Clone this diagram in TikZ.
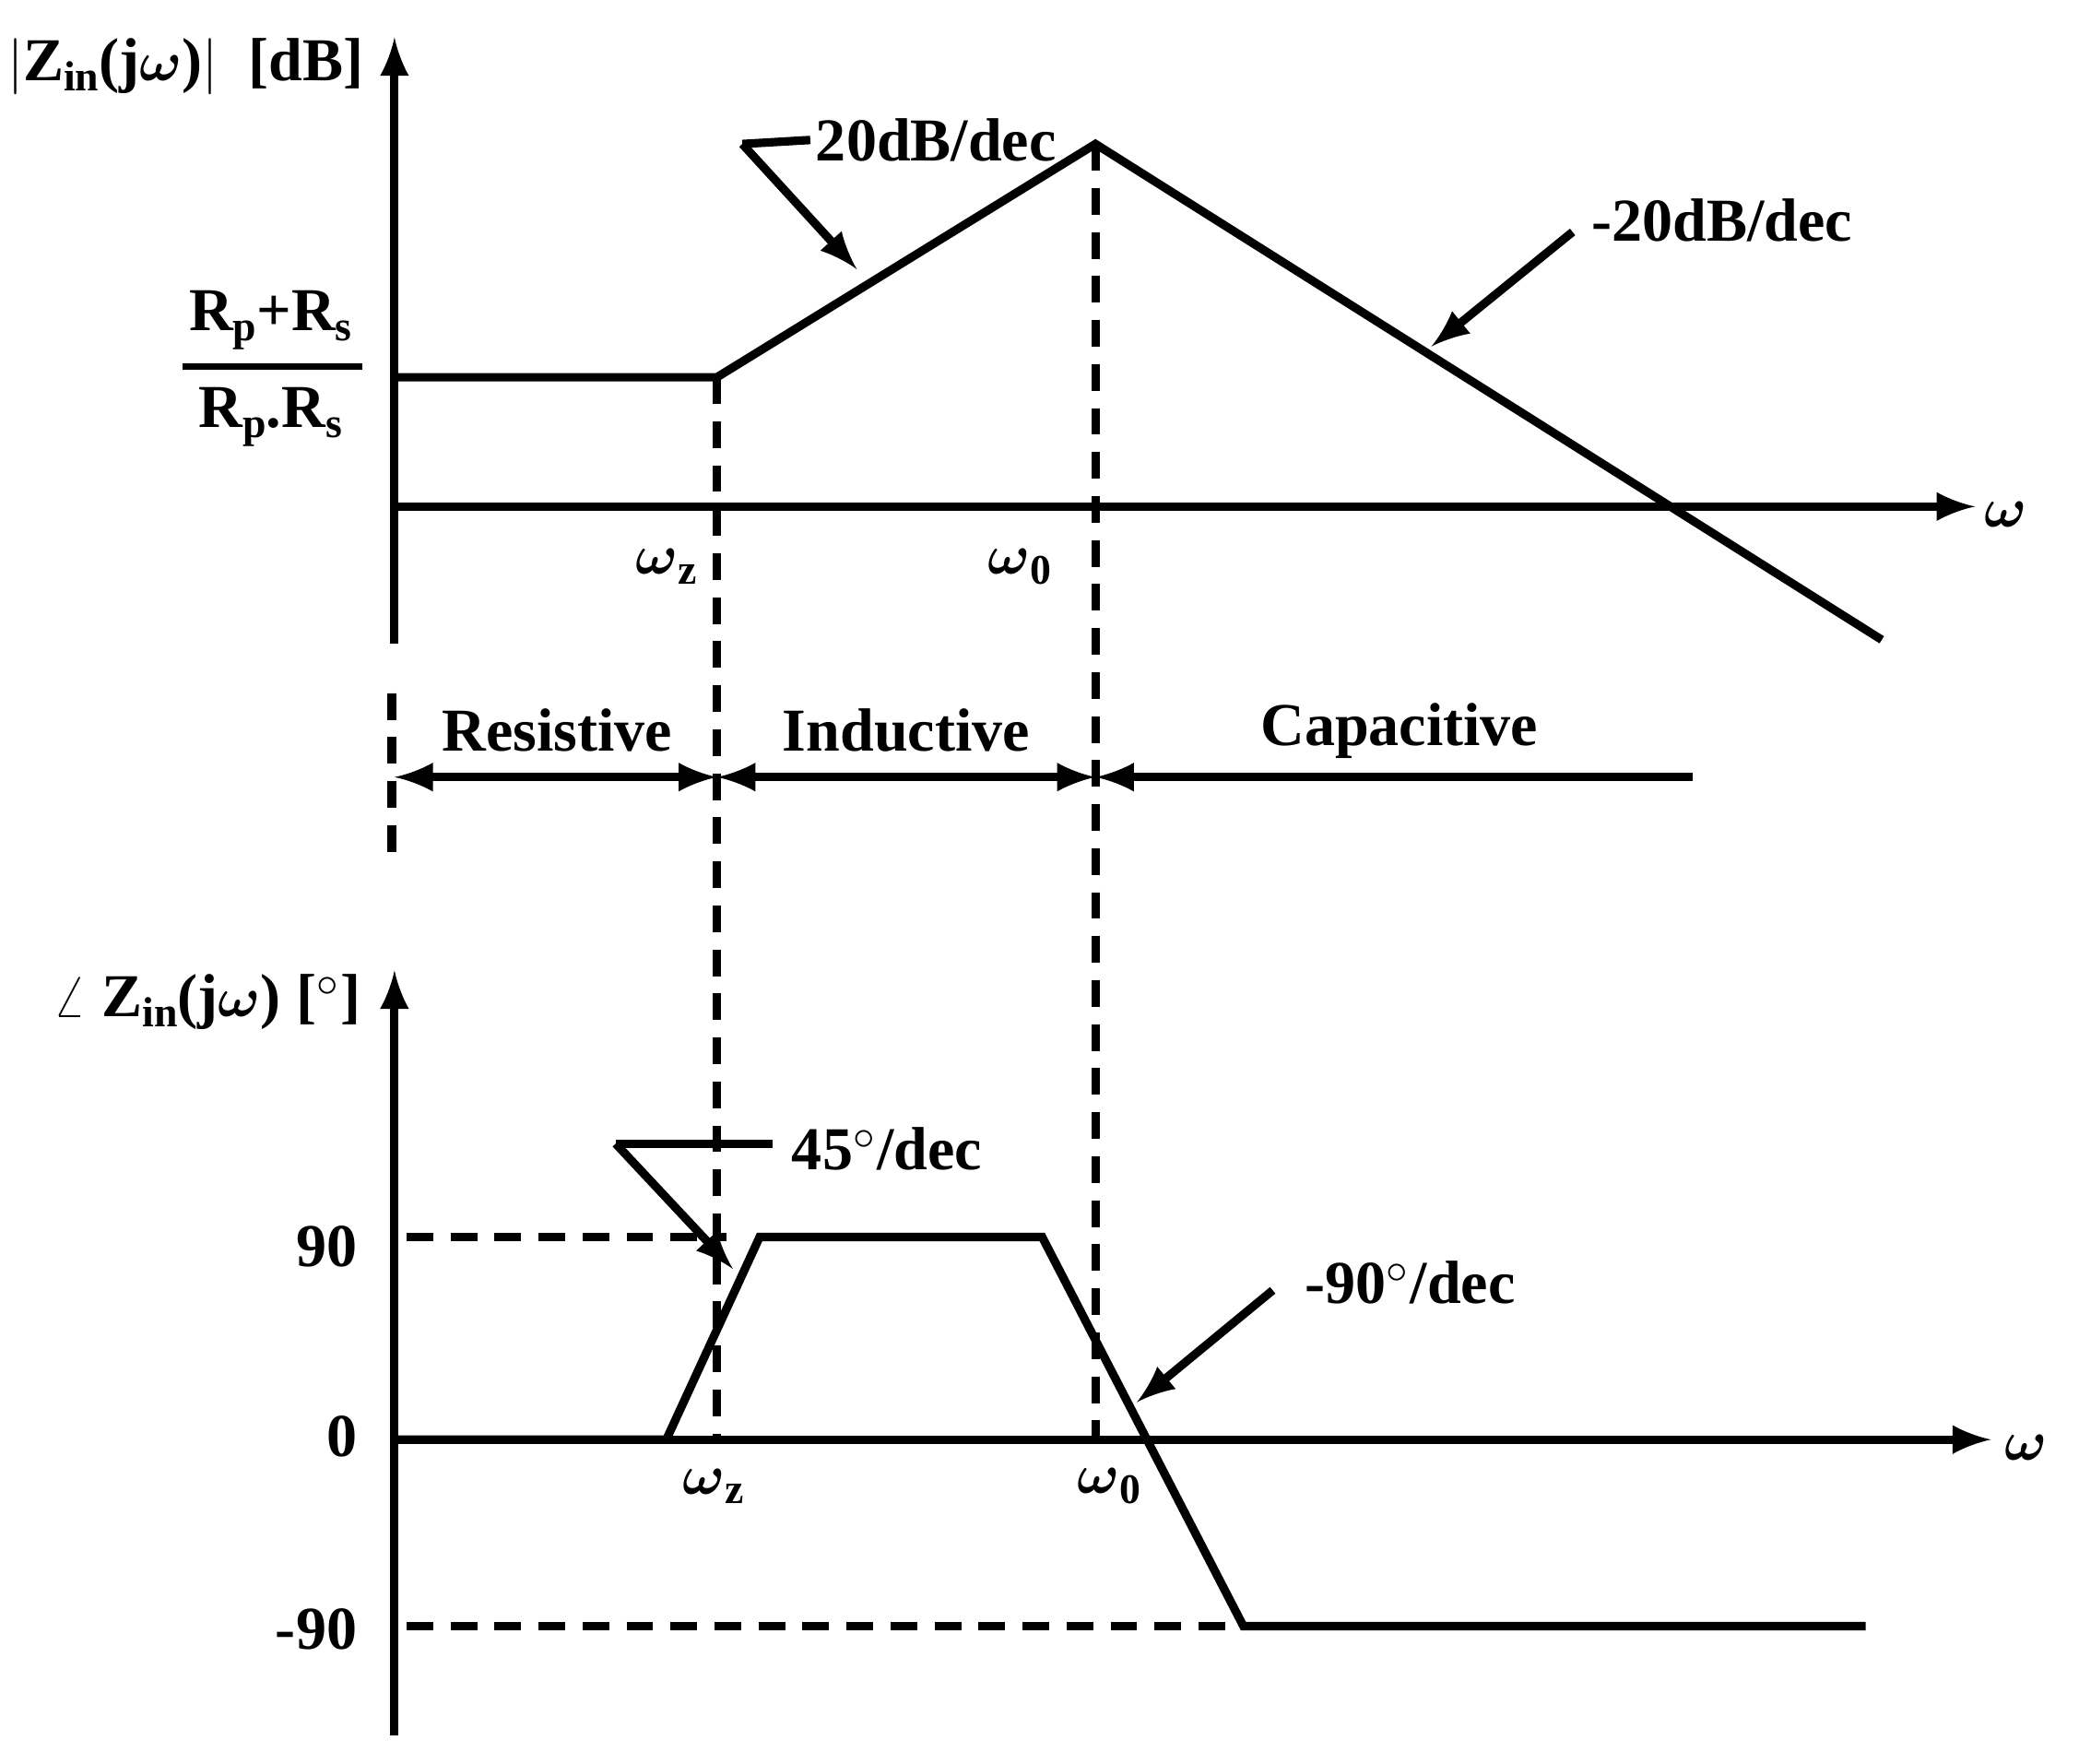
\documentclass[tikz,border=0pt]{standalone}
\usepackage{bm}
\usepackage{fontspec}
\setmainfont{Liberation Serif}
\usetikzlibrary{calc, arrows, positioning}
\tikzstyle{line} = [draw, line width=1.8pt]
\tikzstyle{axis} = [draw, line width=1.8pt, -latex]
\tikzstyle{dline} = [draw, line width=1.8pt, dash pattern=on 0.2cm off 0.13cm]
\tikzstyle{lbl} = [font=\fontsize{13}{16}\selectfont\bfseries, inner sep=1pt]
\newcommand{\lowsub}[1]{\raisebox{-.35ex}{\fontsize{9}{11}\selectfont #1}}

\begin{document}
\begin{tikzpicture}
    [
        x=0.01cm, y=-0.01cm, >=latex
    ]
    \useasboundingbox (0,0) rectangle (1560,1323);

    \begin{scope}
        % magnitude plot
        \coordinate (mo) at (296,380);
        \coordinate (mtop) at (296,28);
        \coordinate (mbot) at (296,483);
        \coordinate (mend) at (1482,380);
        \coordinate (m1) at (296,283);
        \coordinate (mz) at (538,283);
        \coordinate (m0) at (822,108);
        \coordinate (m2) at (1412,480);

        \path[axis] (mbot) -- (mtop);
        \path[axis] (mo) -- (mend);
        \path[line] (m1) -- (mz) -- (m0) -- (m2);

        \node[lbl, anchor=east] (magl) at (277,50) {$|$Z\lowsub{in}(j$\bm\omega$)$|$\ \ [dB]};
        \node[lbl] (wm) at (1505,386) {$\bm\omega$};
        \node[lbl] (wzm) at (500,425) {$\bm\omega$\lowsub{z}};
        \node[lbl] (w0m) at (765,425) {$\bm\omega$\lowsub{0}};
        \node[lbl] (num) at (203,240) {R\lowsub{p}+R\lowsub{s}};
        \node[lbl] (den) at (203,313) {R\lowsub{p}.R\lowsub{s}};
        \path[draw, line width=1.2pt] (137,275) -- (272,275);

        \node[lbl, anchor=west] (s1) at (608,105) {20dB/dec};
        \coordinate (s1a) at (557,108);
        \coordinate (s1b) at (643,202);
        \path[line] (s1.west) -- (s1a);
        \path[line, ->] (s1a) -- (s1b);

        \node[lbl, anchor=west] (s2) at (1190,165) {-20dB/dec};
        \coordinate (s2a) at (1180,174);
        \coordinate (s2b) at (1074,260);
        \path[line, ->] (s2a) -- (s2b);
    \end{scope}

    \begin{scope}
        % regions
        \coordinate (r0) at (296,583);
        \coordinate (r1) at (538,583);
        \coordinate (r2) at (822,583);
        \coordinate (r3) at (1270,583);
        \path[dline] (294,520) -- (294,650);
        \path[line, <->] (r0) -- (r1);
        \path[line, <->] (r1) -- (r2);
        \path[line, ->] (r3) -- (r2);
        \node[lbl] (res) at (418,548) {Resistive};
        \node[lbl] (ind) at (680,548) {Inductive};
        \node[lbl] (cap) at (1050,548) {Capacitive};
        \path[dline] (mz) -- (538,1080);
        \path[dline] (m0) -- (822,1080);
    \end{scope}

    \begin{scope}
        % phase plot
        \coordinate (po) at (296,1080);
        \coordinate (ptop) at (296,728);
        \coordinate (pbot) at (296,1302);
        \coordinate (pend) at (1494,1080);
        \coordinate (p1) at (500,1080);
        \coordinate (p2) at (570,928);
        \coordinate (p3) at (782,928);
        \coordinate (p4) at (933,1220);
        \coordinate (p5) at (1400,1220);

        \path[axis] (pbot) -- (ptop);
        \path[axis] (po) -- (pend);
        \path[line] (po) -- (p1) -- (p2) -- (p3) -- (p4) -- (p5);
        \path[dline] (305,928) -- (545,928);
        \path[dline] (305,1220) -- (p4);

        \node[lbl, anchor=east] (phl) at (275,752) {$\angle$ Z\lowsub{in}(j$\bm\omega$) [$^\circ$]};
        \node[lbl, anchor=east] (p90) at (272,935) {90};
        \node[lbl, anchor=east] (p00) at (272,1078) {0};
        \node[lbl, anchor=east] (pm90) at (272,1222) {-90};
        \node[lbl] (wp) at (1520,1086) {$\bm\omega$};
        \node[lbl] (wzp) at (535,1115) {$\bm\omega$\lowsub{z}};
        \node[lbl] (w0p) at (832,1115) {$\bm\omega$\lowsub{0}};

        \node[lbl, anchor=west] (s3) at (590,862) {45$^\circ$/dec};
        \coordinate (s3a) at (462,858);
        \coordinate (s3b) at (550,952);
        \path[line] (580,858) -- (s3a);
        \path[line, ->] (s3a) -- (s3b);

        \node[lbl, anchor=west] (s4) at (975,962) {-90$^\circ$/dec};
        \coordinate (s4a) at (955,968);
        \coordinate (s4b) at (853,1052);
        \path[line, ->] (s4a) -- (s4b);
    \end{scope}
\end{tikzpicture}
\end{document}
